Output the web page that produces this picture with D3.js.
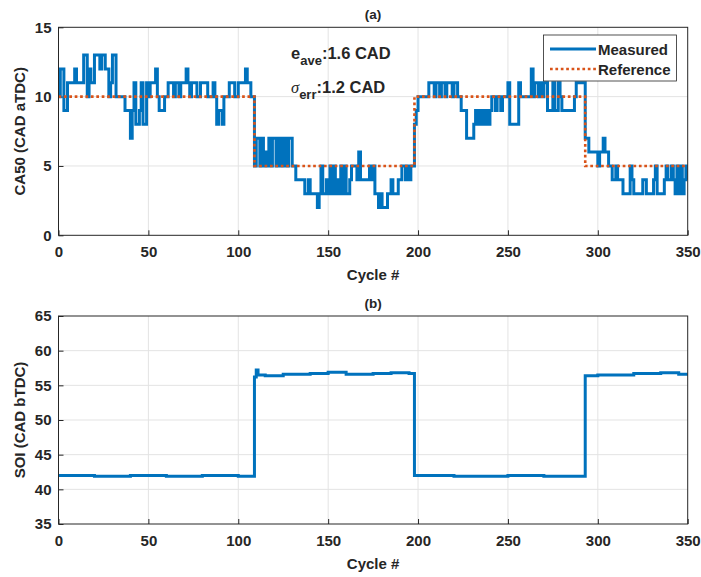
<!DOCTYPE html>
<html>
<head>
<meta charset="utf-8">
<script src="https://cdn.jsdelivr.net/npm/d3@7"></script>
<style>
  body { margin: 0; background: #fff; }
  text { font-family: "Liberation Sans", Arial, sans-serif; font-weight: bold; fill: #262626; }
</style>
</head>
<body>
<script>
// CA50 measured (stairs: cycle where value changes, new value)
var ca50Cycle = [0,1,3,5,9,10,14,16,17,18,20,23,24,26,28,29,30,32,37,40,41,42,43,45,46,47,49,50,51,54,55,56,59,
  61,64,65,67,68,71,72,73,74,77,79,83,86,87,88,89,91,92,95,98,100,104,105,107,
  109,110,112,113,114,115,116,117,118,119,121,122,123,124,125,126,127,128,130,
  132,137,139,140,144,145,146,147,149,150,151,152,153,154,155,156,157,158,159,160,162,163,
  166,167,168,173,174,175,176,178,179,180,183,185,186,189,191,193,194,195,196,
  198,199,200,206,209,210,212,213,215,216,219,220,222,224,227,231,232,233,234,235,236,237,238,239,240,241,243,244,246,247,
  250,251,256,257,263,264,265,267,268,269,270,272,275,276,278,279,280,287,288,
  293,295,300,301,303,304,306,308,310,311,314,318,319,320,325,327,331,332,333,337,338,339,341,342,343,344,345,346,347,348,349,350];
var ca50Value = [10,12,9,11,12,11,13,10,12,11,13,12,13,12,10,11,13,10,9,7,9,11,8,9,11,8,11,10,11,12,10,9,10,
  11,10,11,10,11,12,11,10,11,10,11,10,11,10,8,9,8,10,11,10,11,12,11,10,
  5,7,5,7,5,6,5,7,5,7,5,7,5,7,5,7,5,7,5,
  4,3,4,3,2,3,5,3,4,3,5,3,5,3,4,3,5,3,5,3,4,5,
  4,6,4,5,4,5,3,2,3,2,3,4,3,4,5,4,5,4,5,
  8,9,10,11,10,11,10,11,10,11,10,11,10,9,7,8,9,8,9,8,9,8,9,8,9,10,9,10,9,10,
  11,8,11,10,12,10,11,10,11,10,11,9,11,9,11,10,9,10,11,
  7,6,5,6,7,6,5,4,5,4,3,5,4,3,4,3,4,5,3,4,5,4,5,4,3,5,3,5,3,4,5,4];

// CA50 reference
var refCycle = [0,109,198,293,350];
var refValue = [10,5,10,5,5];

// SOI measured
var soiCycle = [0,20,40,60,80,100,109,110,111,115,125,140,150,160,175,185,195,198,220,250,270,293,300,320,335,345,350];
var soiValue = [42.0,41.9,42.0,41.9,42.0,41.9,56.2,57.2,56.5,56.4,56.6,56.7,56.9,56.6,56.7,56.8,56.7,42.0,41.9,42.0,41.9,56.4,56.5,56.7,56.8,56.6,56.7];

var xTicks = [0,50,100,150,200,250,300,350];
var caTicks = [0,5,10,15];
var soiTicks = [35,40,45,50,55,60,65];

var blue = "#0072BD", orange = "#D95319", axisColor = "#262626", gridColor = "#e3e3e3";

main();

function main() {
  setupSvg();
  var a = setupPanel(27.3, 235.3, [0, 15], caTicks, "(a)", "CA50 (CAD aTDC)");
  drawStairs(a, ca50Cycle, ca50Value, blue, null);
  drawStairs(a, refCycle, refValue, orange, "2.7,2.7");
  drawBox(a);
  addAnnotations();
  addLegend();
  var b = setupPanel(316, 524, [35, 65], soiTicks, "(b)", "SOI (CAD bTDC)");
  drawStairs(b, soiCycle, soiValue, blue, null);
  drawBox(b);
}

function setupSvg() {
  svg = d3.select("body").append("svg")
    .attr("width", 701)
    .attr("height", 577);
  left = 58.5;
  right = 687.7;
}

function setupPanel(top, bottom, domain, yTicks, title, ylabel) {
  var x = d3.scaleLinear().domain([0, 350]).range([left, right]);
  var y = d3.scaleLinear().domain(domain).range([bottom, top]);
  var g = svg.append("g");

  // grid
  g.selectAll(".vgrid").data(xTicks.slice(1, -1)).enter().append("line")
    .attr("x1", d => x(d)).attr("x2", d => x(d))
    .attr("y1", top).attr("y2", bottom)
    .attr("stroke", gridColor).attr("stroke-width", 1);
  g.selectAll(".hgrid").data(yTicks.slice(1, -1)).enter().append("line")
    .attr("y1", d => y(d)).attr("y2", d => y(d))
    .attr("x1", left).attr("x2", right)
    .attr("stroke", gridColor).attr("stroke-width", 1);

  // axes with inward ticks
  var xAxis = g.append("g").attr("transform", `translate(0, ${bottom})`)
    .call(d3.axisBottom(x).tickValues(xTicks).tickSizeInner(-5).tickSizeOuter(0).tickPadding(11));
  var yAxis = g.append("g").attr("transform", `translate(${left}, 0)`)
    .call(d3.axisLeft(y).tickValues(yTicks).tickSizeInner(-5).tickSizeOuter(0).tickPadding(7));
  [xAxis, yAxis].forEach(function (ax) {
    ax.select(".domain").remove();
    ax.selectAll("line").attr("stroke", axisColor);
    ax.selectAll("text").style("font-size", "15px").attr("fill", axisColor);
  });

  // clip for data
  var id = "clip" + Math.round(top);
  svg.append("clipPath").attr("id", id).append("rect")
    .attr("x", left).attr("y", top).attr("width", right - left).attr("height", bottom - top);

  // title and labels
  svg.append("text").attr("x", (left + right) / 2).attr("y", top - 8)
    .attr("text-anchor", "middle").style("font-size", "13.5px").text(title);
  svg.append("text").attr("x", (left + right) / 2).attr("y", bottom + 45)
    .attr("text-anchor", "middle").style("font-size", "15px").text("Cycle #");
  svg.append("text")
    .attr("transform", `translate(25, ${(top + bottom) / 2}) rotate(-90)`)
    .attr("text-anchor", "middle").style("font-size", "15px").text(ylabel);

  return { x: x, y: y, clip: id, top: top, bottom: bottom };
}

function drawStairs(p, cycles, values, color, dash) {
  var pts = cycles.map(function (c, i) { return [c, values[i]]; });
  var line = d3.line()
    .x(d => p.x(d[0]))
    .y(d => p.y(d[1]))
    .curve(d3.curveStepAfter);
  var path = svg.append("path")
    .datum(pts)
    .attr("clip-path", `url(#${p.clip})`)
    .attr("fill", "none")
    .attr("stroke", color)
    .attr("stroke-width", dash ? 2.6 : 3)
    .attr("d", line);
  if (dash) path.attr("stroke-dasharray", dash);
}

// frame drawn above the data lines
function drawBox(p) {
  svg.append("rect").attr("x", left).attr("y", p.top)
    .attr("width", right - left).attr("height", p.bottom - p.top)
    .attr("fill", "none").attr("stroke", axisColor).attr("stroke-width", 1);
}

function addAnnotations() {
  var t1 = svg.append("text").attr("x", 291).attr("y", 59).style("font-size", "16.5px");
  t1.append("tspan").text("e");
  t1.append("tspan").attr("dy", 6).style("font-size", "13px").text("ave");
  t1.append("tspan").attr("dy", -6).text(":1.6 CAD");

  var t2 = svg.append("text").attr("x", 291).attr("y", 93).style("font-size", "16.5px");
  t2.append("tspan").style("font-family", "'Liberation Serif', 'DejaVu Serif', serif")
    .style("font-style", "italic").style("font-weight", "normal").text("σ");
  t2.append("tspan").attr("dy", 6).style("font-size", "13px").text("err");
  t2.append("tspan").attr("dy", -6).text(":1.2 CAD");
}

function addLegend() {
  var g = svg.append("g");
  g.append("rect").attr("x", 543.5).attr("y", 35).attr("width", 133).attr("height", 46)
    .attr("fill", "#fff").attr("stroke", axisColor).attr("stroke-width", 0.8);
  var items = [["Measured", blue, null, 49], ["Reference", orange, "2.7,2.7", 69]];
  items.forEach(function (it) {
    var l = g.append("line").attr("x1", 550).attr("x2", 596)
      .attr("y1", it[3]).attr("y2", it[3])
      .attr("stroke", it[1]).attr("stroke-width", it[2] ? 2.6 : 3);
    if (it[2]) l.attr("stroke-dasharray", it[2]);
    g.append("text").attr("x", 598).attr("y", it[3] + 5.5)
      .style("font-size", "15px").text(it[0]);
  });
}
</script>
</body>
</html>
